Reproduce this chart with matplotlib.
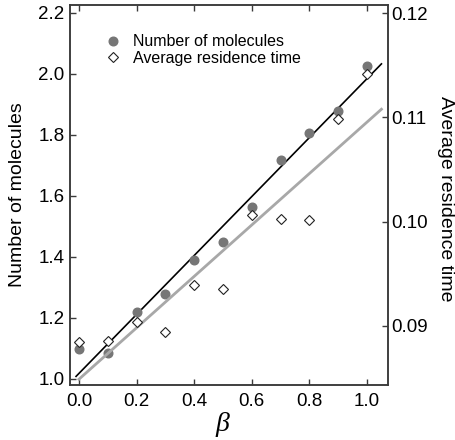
import numpy as np
import matplotlib.pyplot as plt

plt.rcParams['font.family'] = ['Liberation Sans', 'DejaVu Sans']

# values
beta = [0.0, 0.1, 0.2, 0.3, 0.4, 0.5, 0.6, 0.7, 0.8, 0.9, 1.0]
n_molecules = [1.098, 1.085, 1.220, 1.278, 1.390, 1.450, 1.563, 1.717, 1.806, 1.880, 2.027]
residence = [0.0885, 0.0886, 0.0904, 0.0894, 0.0939, 0.0935, 0.1006, 0.1003, 0.1002, 0.1098, 0.1142]

spine_col = '#3a3a3a'

fig = plt.figure(figsize=(4.56, 4.40), dpi=100)
ax = fig.add_axes([0.1535, 0.125, 0.6975, 0.8636])
ax2 = ax.twinx()

# linear fits drawn as lines
p1 = np.polyfit(beta, n_molecules, 1)
p2 = np.polyfit(beta, residence, 1)
xl1 = np.array([-0.01, 1.05])
xl2 = np.array([0.0, 1.05])
ax.plot(xl1, np.polyval(p1, xl1), color='black', lw=1.2, zorder=2)
ax2.plot(xl2, np.polyval(p2, xl2), color='#a8a8a8', lw=2.0, zorder=2)

h1, = ax.plot(beta, n_molecules, 'o', ms=6.2, color='#767676', mec='#767676',
              label='Number of molecules', zorder=3)
h2, = ax2.plot(beta, residence, 'D', ms=4.9, mfc='white', mec='#222222', mew=0.8,
               label='Average residence time', zorder=3)

ax.set_xlim(-0.031, 1.073)
ax.set_ylim(0.98, 2.226)
ax2.set_ylim(0.08434, 0.12077)

ax.set_xticks([0.0, 0.2, 0.4, 0.6, 0.8, 1.0])
ax.set_yticks([1.0, 1.2, 1.4, 1.6, 1.8, 2.0, 2.2])
ax2.set_yticks([0.09, 0.10, 0.11, 0.12])
ax.xaxis.set_major_formatter(plt.FormatStrFormatter('%.1f'))
ax.yaxis.set_major_formatter(plt.FormatStrFormatter('%.1f'))
ax2.yaxis.set_major_formatter(plt.FormatStrFormatter('%.2f'))

ax.tick_params(direction='in', top=True, right=False, length=4, width=1,
               color=spine_col, labelsize=13.5, pad=4)
ax.tick_params(axis='x', pad=6)
ax2.tick_params(direction='in', length=4, width=1, color=spine_col,
                labelsize=13.5, pad=2)

for a in (ax, ax2):
    for s in a.spines.values():
        s.set_color(spine_col)
        s.set_linewidth(1.1)

ax.set_ylabel('Number of molecules', fontsize=14, va='center')
ax.yaxis.set_label_coords(-0.165, 0.5)
ax2.set_ylabel('Average residence time', fontsize=14, rotation=270, va='center')
ax2.yaxis.set_label_coords(1.18, 0.49)
ax.set_xlabel('β', fontsize=20, family=['Liberation Serif', 'DejaVu Serif'],
              style='italic')
ax.xaxis.set_label_coords(0.478, -0.07)

ax2.legend([h1, h2], ['Number of molecules', 'Average residence time'],
           loc='upper left', bbox_to_anchor=(0.089, 0.94), frameon=False,
           fontsize=11.5, handlelength=1.0, handletextpad=0.8,
           labelspacing=0.1, borderaxespad=0)

fig.savefig('out.png', dpi=100)
